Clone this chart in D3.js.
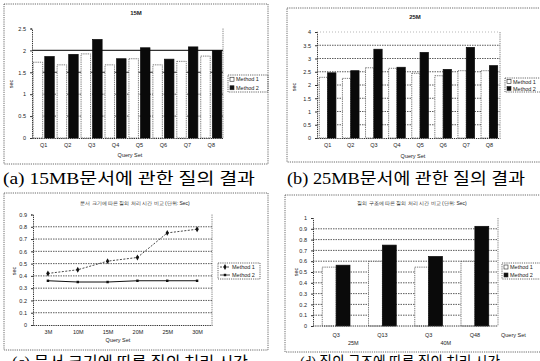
<!DOCTYPE html>
<html>
<head>
<meta charset="utf-8">
<script src="https://cdn.jsdelivr.net/npm/d3@7"></script>
<style>
  html, body { margin: 0; padding: 0; background: #fff; }
  svg { display: block; }
  .lbl { font-family: "Liberation Sans", "DejaVu Sans", sans-serif; fill: #222; }
  .cap { font-family: "Liberation Serif", "Noto Sans CJK KR", serif; font-size: 16px; fill: #000; }
</style>
</head>
<body>
<svg id="chart" width="540" height="361"></svg>
<script>
// ---- data ----
const queries = ["Q1", "Q2", "Q3", "Q4", "Q5", "Q6", "Q7", "Q8"];
const seriesNames = ["Method 1", "Method 2"];

// (a) 15MB documents, seconds per query
const m1_15M = [1.73, 1.67, 1.92, 1.67, 1.81, 1.67, 1.75, 1.87];
const m2_15M = [1.86, 1.91, 2.25, 1.81, 2.06, 1.80, 2.08, 2.00];
const ticks15M = [0, 0.5, 1, 1.5, 2, 2.5];

// (b) 25MB documents, seconds per query
const m1_25M = [2.29, 2.25, 2.65, 2.63, 2.44, 2.35, 2.54, 2.54];
const m2_25M = [2.46, 2.54, 3.35, 2.67, 3.23, 2.59, 3.42, 2.73];
const ticks25M = [0, 0.5, 1, 1.5, 2, 2.5, 3, 3.5, 4];

// (c) processing time by document size
const docSizes = ["3M", "10M", "15M", "20M", "25M", "30M"];
const m1_bySize = [0.42, 0.45, 0.52, 0.55, 0.75, 0.78];
const m2_bySize = [0.36, 0.35, 0.35, 0.36, 0.36, 0.36];
const ticksSize = [0, 0.1, 0.2, 0.3, 0.4, 0.5, 0.6, 0.7, 0.8, 0.9];

// (d) processing time by query type
const queryTypes = ["Q3", "Q13", "Q3", "Q48"];
const docGroups = ["25M", "40M"];
const m1_byType = [0.545, 0.598, 0.545, 0.598];
const m2_byType = [0.563, 0.749, 0.644, 0.923];
const ticksType = [0, 0.1, 0.2, 0.3, 0.4, 0.5, 0.6, 0.7, 0.8, 0.9, 1];

const titles = ["15M", "25M",
  "문서 크기에 따른 질의 처리 시간 비교 (단위: Sec)",
  "질의 구조에 따른 질의 처리 시간 비교 (단위: Sec)"];
const captions = ["(a) 15MB문서에 관한 질의 결과", "(b) 25MB문서에 관한 질의 결과",
  "(c) 문서 크기에 따른 질의 처리 시간", "(d) 질의 구조에 따른 질의 처리 시간"];

// ---- helpers ----
const svg = d3.select("#chart");
const INK = "#222";

function frame(x0, y0, x1, y1) {
  svg.append("rect").attr("x", x0).attr("y", y0)
    .attr("width", x1 - x0).attr("height", y1 - y0)
    .attr("fill", "none").attr("stroke", "#444")
    .attr("stroke-width", 0.8).attr("stroke-dasharray", "1.2,1");
}

function text(x, y, s, size, anchor, extra) {
  const t = svg.append("text").attr("class", "lbl")
    .attr("x", x).attr("y", y).attr("font-size", size)
    .attr("text-anchor", anchor || "middle").text(s);
  if (extra) extra(t);
  return t;
}

function gridlines(y, ticks, x0, x1, styleFor) {
  ticks.forEach(t => {
    const st = styleFor(t);
    if (!st) return;
    svg.append("line").attr("x1", x0).attr("x2", x1)
      .attr("y1", y(t)).attr("y2", y(t))
      .attr("stroke", st.color).attr("stroke-width", st.width)
      .attr("stroke-dasharray", st.dash);
  });
}

function yAxis(y, ticks, x0, x1) {
  const g = svg.append("g").attr("transform", `translate(${x0},0)`)
    .call(d3.axisLeft(y).tickValues(ticks).tickSize(2).tickPadding(4)
      .tickFormat(d => String(d)));
  g.select(".domain").attr("stroke", "#333").attr("stroke-dasharray", "1.3,0.9");
  g.selectAll(".tick line").attr("stroke", "#333");
  g.selectAll(".tick text").attr("class", "lbl").attr("font-size", 5.5)
    .attr("font-family", "Liberation Sans, DejaVu Sans, sans-serif").attr("fill", INK);
  // right border of the plot area
  svg.append("line").attr("x1", x1).attr("x2", x1)
    .attr("y1", y.range()[1]).attr("y2", y.range()[0])
    .attr("stroke", "#555").attr("stroke-width", 0.7).attr("stroke-dasharray", "1.3,0.9");
}

function xAxisBand(x, yPos) {
  const g = svg.append("g").attr("transform", `translate(0,${yPos})`)
    .call(d3.axisBottom(x).tickSize(0).tickPadding(5));
  g.select(".domain").attr("stroke", "#333").attr("stroke-dasharray", "1.3,0.9");
  g.selectAll(".tick text").attr("font-size", 5.5)
    .attr("font-family", "Liberation Sans, DejaVu Sans, sans-serif").attr("fill", INK);
  return g;
}

function barLegend(x0, y0, x1, y1) {
  frame(x0, y0, x1, y1);
  const h = (y1 - y0) / 2;
  seriesNames.forEach((n, i) => {
    const cy = y0 + h * i + h / 2;
    svg.append("rect").attr("x", x0 + 2).attr("y", cy - 2).attr("width", 4).attr("height", 4)
      .attr("fill", i === 0 ? "#fff" : "#111").attr("stroke", "#222").attr("stroke-width", 0.6);
    text(x0 + 8, cy + 2, n, 5.5, "start");
  });
}

function groupedBars(cfg) {
  const { cats, s1, s2, ticks, px0, px1, py0, py1, padIn, padOut, subPad, gridStyle } = cfg;
  const y = d3.scaleLinear().domain([0, ticks[ticks.length - 1]]).range([py0, py1]);
  const x = d3.scaleBand().domain(d3.range(cats.length)).range([px0, px1])
    .paddingInner(padIn).paddingOuter(padOut);
  const xs = d3.scaleBand().domain([0, 1]).range([0, x.bandwidth()]).paddingInner(subPad);

  gridlines(y, ticks, px0, px1, gridStyle);

  [s1, s2].forEach((vals, si) => {
    svg.append("g").selectAll("rect").data(vals).join("rect")
      .attr("x", (d, i) => x(i) + xs(si))
      .attr("y", d => y(d))
      .attr("width", xs.bandwidth())
      .attr("height", d => y(0) - y(d))
      .attr("fill", si === 0 ? "#fff" : "#0a0a0a")
      .attr("stroke", si === 0 ? "#444" : "#0a0a0a")
      .attr("stroke-width", 0.7)
      .attr("stroke-dasharray", si === 0 ? "1.3,0.9" : null);
  });

  yAxis(y, ticks, px0, px1);
  const xLab = d3.scaleBand().domain(cats.map((c, i) => i + ":" + c)).range([px0, px1])
    .paddingInner(padIn).paddingOuter(padOut);
  const g = xAxisBand(xLab, py0);
  g.selectAll(".tick text").text(d => d.split(":")[1]);
  return { x, y };
}

const dotted = { color: "#333", width: 0.8, dash: "1.5,1" };
const solid = { color: "#333", width: 1.1, dash: null };

// ---- (a) 15M ----
frame(4, 4, 268, 164);
text(136, 15, titles[0], 6, "middle", t => t.attr("font-weight", "bold"));
groupedBars({
  cats: queries, s1: m1_15M, s2: m2_15M, ticks: ticks15M,
  px0: 32, px1: 223, py0: 138, py1: 28.5,
  padIn: 0.12, padOut: 0.05, subPad: 0.18,
  gridStyle: t => (t === 0 || t === 2.5) ? null : (t >= 1.5 ? solid : dotted)
});
text(13, 84, "sec", 5.5, "middle", t => t.attr("transform", "rotate(-90,13,84)"));
text(130, 157, "Query Set", 5.5);
barLegend(228, 75, 268, 92);
svg.append("text").attr("class", "cap").attr("x", 3).attr("y", 184)
  .attr("textLength", 252).attr("lengthAdjust", "spacingAndGlyphs").text(captions[0]);

// ---- (b) 25M ----
frame(287, 8, 542, 162);
text(415, 19, titles[1], 6, "middle", t => t.attr("font-weight", "bold"));
groupedBars({
  cats: queries, s1: m1_25M, s2: m2_25M, ticks: ticks25M,
  px0: 317, px1: 500, py0: 138, py1: 32,
  padIn: 0.28, padOut: 0.1, subPad: 0,
  gridStyle: t => t === 0 ? null : (t === 4 ? { color: "#888", width: 0.6, dash: "1,2" } : dotted)
});
text(296, 87, "sec", 5.5, "middle", t => t.attr("transform", "rotate(-90,296,87)"));
text(413, 158, "Query Set", 5.5);
barLegend(505, 78, 541, 92);
svg.append("text").attr("class", "cap").attr("x", 287).attr("y", 184)
  .attr("textLength", 238).attr("lengthAdjust", "spacingAndGlyphs").text(captions[1]);

// ---- (c) time by document size ----
frame(4, 193, 268, 350);
text(135, 205, titles[2], 5, "middle");
{
  const y = d3.scaleLinear().domain([0, 0.9]).range([325, 214.5]);
  const x = d3.scalePoint().domain(docSizes).range([33, 212]).padding(0.5);
  gridlines(y, ticksSize, 33, 212, t => (t === 0 || t === 0.9) ? null : dotted);
  yAxis(y, ticksSize, 33, 212);
  const g = svg.append("g").attr("transform", "translate(0,325)")
    .call(d3.axisBottom(x).tickSize(0).tickPadding(5));
  g.select(".domain").attr("stroke", "#333").attr("stroke-dasharray", "1.3,0.9");
  g.selectAll(".tick text").attr("font-size", 5.5)
    .attr("font-family", "Liberation Sans, DejaVu Sans, sans-serif").attr("fill", INK);

  const line = d3.line().x((d, i) => x(docSizes[i])).y(d => y(d));
  svg.append("path").datum(m1_bySize).attr("d", line).attr("fill", "none")
    .attr("stroke", "#333").attr("stroke-width", 0.9).attr("stroke-dasharray", "2,1.5");
  svg.append("path").datum(m2_bySize).attr("d", line).attr("fill", "none")
    .attr("stroke", "#111").attr("stroke-width", 1.1);
  const diamond = d3.symbol().type(d3.symbolDiamond).size(10);
  const square = d3.symbol().type(d3.symbolSquare).size(6);
  svg.append("g").selectAll("path").data(m1_bySize).join("path")
    .attr("d", diamond).attr("fill", "#111")
    .attr("transform", (d, i) => `translate(${x(docSizes[i])},${y(d)})`);
  svg.append("g").selectAll("path").data(m2_bySize).join("path")
    .attr("d", square).attr("fill", "#111")
    .attr("transform", (d, i) => `translate(${x(docSizes[i])},${y(d)})`);

  text(16, 271, "sec", 5.5, "middle", t => t.attr("transform", "rotate(-90,16,271)"));
  text(118, 342, "Query Set", 5.5);
  // legend
  frame(218, 263, 260, 279);
  [["2,1.5", diamond], [null, square]].forEach(([dash, sym], i) => {
    const cy = 267 + i * 8;
    svg.append("line").attr("x1", 220).attr("x2", 230).attr("y1", cy).attr("y2", cy)
      .attr("stroke", "#222").attr("stroke-width", 0.8).attr("stroke-dasharray", dash);
    svg.append("path").attr("d", sym).attr("fill", "#111").attr("transform", `translate(225,${cy})`);
    text(232, cy + 2, seriesNames[i], 5.5, "start");
  });
}
svg.append("text").attr("class", "cap").attr("x", 12).attr("y", 368)
  .attr("textLength", 236).attr("lengthAdjust", "spacingAndGlyphs").text(captions[2]);

// ---- (d) time by query type ----
frame(285, 195, 542, 352);
text(412, 205, titles[3], 5, "middle");
{
  const y = d3.scaleLinear().domain([0, 1]).range([326, 218]);
  const x = d3.scaleBand().domain(d3.range(queryTypes.length)).range([313, 498])
    .paddingInner(0.4).paddingOuter(0.2);
  const xs = d3.scaleBand().domain([0, 1]).range([0, x.bandwidth()]);
  gridlines(y, ticksType, 313, 498, t => (t === 0 || t === 1) ? null : dotted);
  [m1_byType, m2_byType].forEach((vals, si) => {
    svg.append("g").selectAll("rect").data(vals).join("rect")
      .attr("x", (d, i) => x(i) + xs(si))
      .attr("y", d => y(d))
      .attr("width", xs.bandwidth())
      .attr("height", d => y(0) - y(d))
      .attr("fill", si === 0 ? "#fff" : "#0a0a0a")
      .attr("stroke", si === 0 ? "#444" : "#0a0a0a")
      .attr("stroke-width", 0.7)
      .attr("stroke-dasharray", si === 0 ? "1.3,0.9" : null);
  });
  yAxis(y, ticksType, 313, 498);
  svg.append("line").attr("x1", 313).attr("x2", 498).attr("y1", 326).attr("y2", 326)
    .attr("stroke", "#333").attr("stroke-dasharray", "1.3,0.9");
  queryTypes.forEach((q, i) => text(x(i) + x.bandwidth() / 2, 337, q, 5.5));
  docGroups.forEach((g, gi) => {
    const cx = (x(gi * 2) + x(gi * 2 + 1) + x.bandwidth()) / 2;
    text(cx - 6, 345, g, 5.5);
  });
  text(501, 337, "Query Set", 5.5, "start");
  text(298, 272, "sec", 5.5, "middle", t => t.attr("transform", "rotate(-90,298,272)"));
  barLegend(502, 263, 541, 279);
}
svg.append("text").attr("class", "cap").attr("x", 300).attr("y", 368)
  .attr("textLength", 200).attr("lengthAdjust", "spacingAndGlyphs").text(captions[3]);
</script>
</body>
</html>
